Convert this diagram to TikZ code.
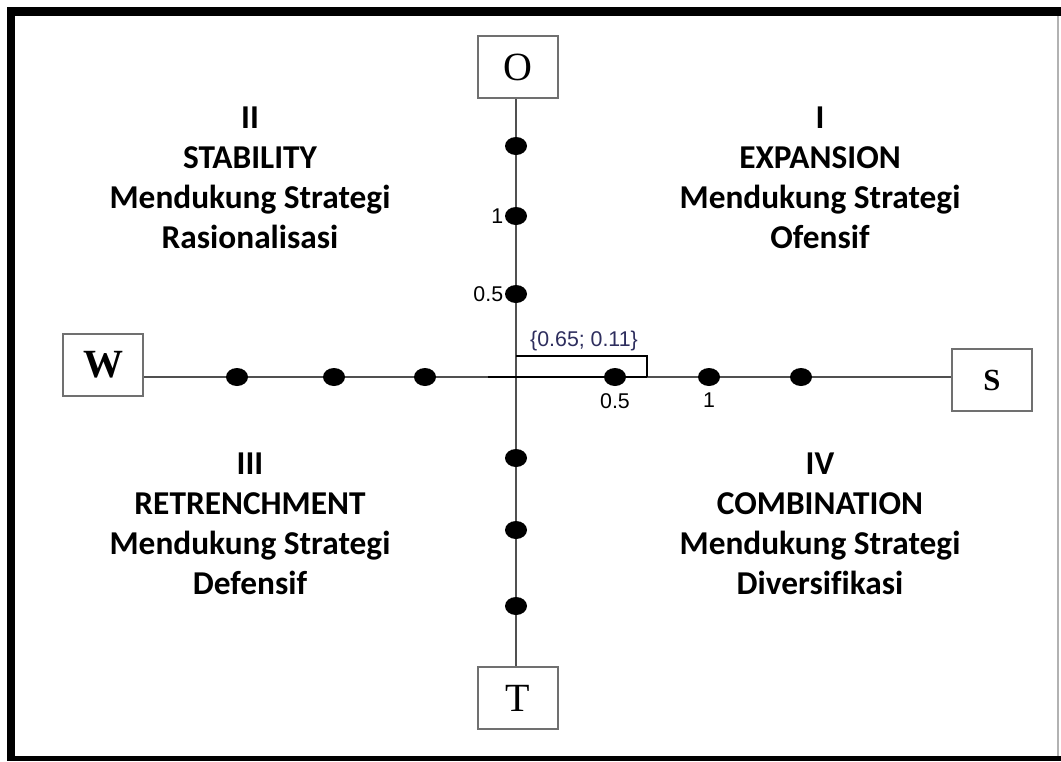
\documentclass[tikz,border=0pt]{standalone}
\usepackage{fontspec}
\setmainfont{Liberation Serif}
\newfontfamily\carl[Ligatures=NoCommon]{Carlito}
\newfontfamily\arialf{Liberation Sans}
\usetikzlibrary{shapes.geometric}
\definecolor{axisgray}{HTML}{505050}
\definecolor{boxgray}{HTML}{707070}
\definecolor{navy}{HTML}{2E2E5E}
\tikzset{
  letterbox/.style={draw=boxgray, line width=1.5pt, fill=white, minimum width=60pt, minimum height=47pt, inner sep=0pt},
  axisline/.style={draw=axisgray, line width=1.5pt},
  dotm/.style={ellipse, fill=black, minimum width=16.5pt, minimum height=13.5pt, inner sep=0pt},
  numlbl/.style={font=\arialf\fontsize{16}{19}\selectfont, inner sep=1pt},
  quadtxt/.style={font=\carl\bfseries\fontsize{25}{30}\selectfont, align=center, inner sep=0pt},
}
\begin{document}
\begin{tikzpicture}[x=0.75pt, y=-0.75pt]
\useasboundingbox (0,0) rectangle (1061,761);
\fill[white] (0,0) rectangle (1061,761);
% frame
\fill[black] (7,7) rectangle (1061,16);
\fill[black] (7,7) rectangle (15,761);
\fill[black] (7,756) rectangle (1061,761);
\draw[gray!60, line width=1pt] (1058,16) -- (1058,756);

\coordinate (c) at (516,377);
\node[letterbox, font=\fontsize{30}{30}\selectfont] (O) at (518,67) {O};
\node[letterbox, font=\bfseries\fontsize{30}{30}\selectfont] (W) at (103,365) {W};
\node[letterbox, font=\bfseries\fontsize{23}{23}\selectfont] (S) at (992,380) {S};
\node[letterbox, font=\fontsize{30}{30}\selectfont] (T) at (518,698) {T};

\draw[axisline] (O.south -| c) -- (T.north -| c);
\draw[axisline] (W.east |- c) -- (S.west |- c);

% bracket
\coordinate (b1) at (516,356);
\coordinate (b2) at (647,356);
\coordinate (b3) at (647,377);
\draw[black, line width=1.3pt] (b1) -- (b2) -- (b3);
\draw[black, line width=1.8pt] (488,377) -- (b3);
\node[font=\arialf\fontsize{16}{19}\selectfont, text=navy] (pt) at (584,341) {\{0.65; 0.11\}};

% dots vertical
\node[dotm] (v1) at (516,146) {};
\node[dotm, label={[numlbl, label distance=0pt]left:1}] (v2) at (516,216) {};
\node[dotm, label={[numlbl, label distance=0pt]left:0.5}] (v3) at (516,294) {};
\node[dotm] (v4) at (516,458) {};
\node[dotm] (v5) at (516,530) {};
\node[dotm] (v6) at (516,606) {};
% dots horizontal
\node[dotm] (h1) at (237,377) {};
\node[dotm] (h2) at (334,377) {};
\node[dotm] (h3) at (425,377) {};
\node[dotm, label={[numlbl, label distance=4pt]below:0.5}] (h4) at (615,377) {};
\node[dotm, label={[numlbl, label distance=4pt]below:1}] (h5) at (709,377) {};
\node[dotm] (h6) at (801,377) {};

% quadrant texts
\node[quadtxt] (q2) at (250,178) {II\\STABILITY\\Mendukung Strategi\\Rasionalisasi};
\node[quadtxt] (q1) at (820,178) {I\\EXPANSION\\Mendukung Strategi\\Ofensif};
\node[quadtxt] (q3) at (250,524) {III\\RETRENCHMENT\\Mendukung Strategi\\Defensif};
\node[quadtxt] (q4) at (820,524) {IV\\COMBINATION\\Mendukung Strategi\\Diversifikasi};
\end{tikzpicture}
\end{document}
